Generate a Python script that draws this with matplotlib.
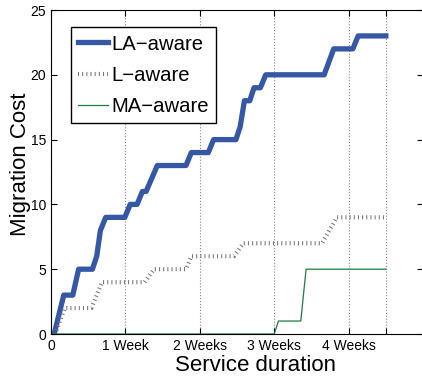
import matplotlib
matplotlib.use('Agg')
import matplotlib.pyplot as plt

plt.rcParams['font.family'] = ['Liberation Sans', 'DejaVu Sans']

# service duration in days, migration cost
la_days = [0.3, 1.2, 2.05, 2.6, 3.9, 4.3, 4.65, 5.15, 6.95, 7.45, 8.1, 8.6, 8.95, 10.0,
           12.7, 13.2, 14.8, 15.3, 17.4, 17.8, 18.2, 18.7, 19.1, 19.7, 20.2, 25.7,
           26.6, 28.4, 28.9, 31.5]
la_cost = [0, 3, 3, 5, 5, 6, 8, 9, 9, 10, 10, 11, 11, 13, 13, 14, 14, 15, 15, 16, 18,
           18, 19, 19, 20, 20, 22, 22, 23, 23]

l_days = [0, 0.4, 1.3, 3.8, 4.8, 8.8, 9.7, 12.7, 13.2, 17.2, 18.1, 25.5, 26.9, 31.5]
l_cost = [0, 0, 2, 2, 4, 4, 5, 5, 6, 6, 7, 7, 9, 9]

ma_days = [0, 21.0, 21.4, 23.5, 24.0, 31.5]
ma_cost = [0, 0, 1, 1, 5, 5]

xticks = [0, 7, 14, 21, 28, 31.5]
xticklabels = ['0', '1 Week', '2 Weeks', '3 Weeks', '4 Weeks', '']
yticks = [0, 5, 10, 15, 20, 25]

fig = plt.figure(figsize=(4.22, 3.8), dpi=100)
ax = fig.add_axes([51 / 422, 46 / 380, 372 / 422, 324 / 380])

ax.plot(la_days, la_cost, color='#3457a6', linewidth=3.8, label='LA\u2212aware')
ax.plot(l_days, l_cost, color='#777777', linewidth=3, dashes=(0.25, 0.75),
        dash_capstyle='butt', label='L\u2212aware')
ax.plot(ma_days, ma_cost, color='#1e7d3e', linewidth=0.9, label='MA\u2212aware')

ax.set_xlim(0, 35)
ax.set_ylim(0, 25)
ax.set_xticks(xticks)
ax.set_xticklabels(xticklabels, fontsize=10)
ax.set_yticks(yticks)
ax.tick_params(axis='y', labelsize=10)
ax.tick_params(direction='in', top=True, right=True, length=4, width=0.8)
ax.xaxis.grid(True, linestyle=':', color='#888888', linewidth=0.8)

ax.set_xlabel('Service duration', fontsize=16)
ax.set_ylabel('Migration Cost', fontsize=16)
ax.xaxis.set_label_coords(0.551, -0.065)
ax.yaxis.set_label_coords(-0.055, 0.525)

leg = ax.legend(loc='upper left', bbox_to_anchor=(0.053, 0.946), fontsize=14.6,
                fancybox=False, framealpha=1, edgecolor='black',
                handlelength=1.5, handletextpad=0.15, borderpad=0.35,
                labelspacing=0.6, borderaxespad=0)
leg.get_frame().set_linewidth(1)

fig.savefig('out.png', dpi=100)
